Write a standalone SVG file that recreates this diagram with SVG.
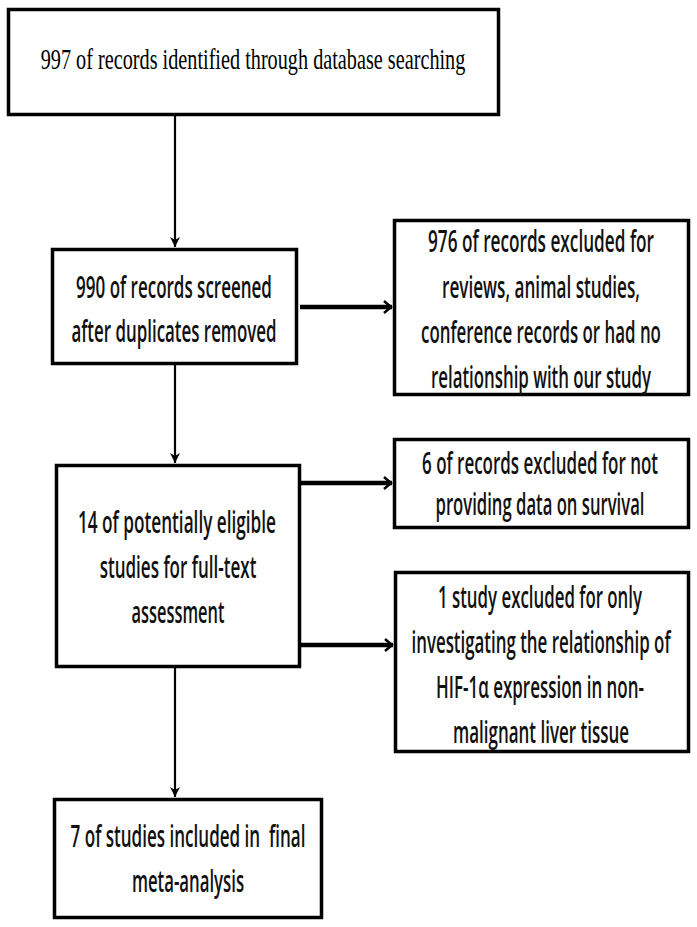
<svg xmlns="http://www.w3.org/2000/svg" width="697" height="927" viewBox="0 0 697 927">
<defs>
<style>
.box{fill:#fff;stroke:#000;stroke-width:3.5}
.t{font-family:"Open Sans","Liberation Sans",sans-serif;font-size:31px;font-weight:600;fill:#111;text-anchor:middle}
.s{font-family:"Liberation Serif",serif;font-size:29px;fill:#000;text-anchor:middle}
.thin{stroke:#000;stroke-width:2.2;fill:none}
.thick{stroke:#000;stroke-width:4.5;fill:none}
</style>
<marker id="hv" markerUnits="userSpaceOnUse" markerWidth="12" markerHeight="14" refX="10" refY="6" orient="auto">
<path d="M0,1 L10,6 L0,11 L3,6 Z" fill="#000"/>
</marker>
<marker id="hh" markerUnits="userSpaceOnUse" markerWidth="12" markerHeight="14" refX="10" refY="7" orient="auto">
<path d="M2,1 L9,7 L2,13" fill="none" stroke="#000" stroke-width="2.5"/>
</marker>
</defs>
<rect width="697" height="927" fill="#fff"/>
<g id="connectors">
<line class="thin" x1="175" y1="116" x2="175" y2="247" marker-end="url(#hv)"/>
<line class="thick" x1="300" y1="307" x2="392" y2="307" marker-end="url(#hh)"/>
<line class="thin" x1="175" y1="365" x2="175" y2="463" marker-end="url(#hv)"/>
<line class="thick" x1="301" y1="483" x2="392" y2="483" marker-end="url(#hh)"/>
<line class="thick" x1="301" y1="645" x2="393" y2="645" marker-end="url(#hh)"/>
<line class="thin" x1="175" y1="668" x2="175" y2="797" marker-end="url(#hv)"/>
</g>
<g id="n1">
<rect class="box" x="8.5" y="9.5" width="490" height="105"/>
<text class="s" transform="translate(253,69) scale(0.62,1)" textLength="685" lengthAdjust="spacingAndGlyphs">997 of records identified through database searching</text>
</g>
<g id="n2">
<rect class="box" x="52.5" y="249.5" width="244" height="114"/>
<text class="t" transform="translate(174,298) scale(0.55,1)" textLength="356" lengthAdjust="spacingAndGlyphs">990 of records screened</text>
<text class="t" transform="translate(174,342) scale(0.55,1)" textLength="373" lengthAdjust="spacingAndGlyphs">after duplicates removed</text>
</g>
<g id="n3">
<rect class="box" x="394.5" y="220.5" width="294" height="174"/>
<text class="t" transform="translate(541,252) scale(0.55,1)" textLength="411" lengthAdjust="spacingAndGlyphs">976 of records excluded for</text>
<text class="t" transform="translate(541,298) scale(0.55,1)" textLength="360" lengthAdjust="spacingAndGlyphs">reviews, animal studies,</text>
<text class="t" transform="translate(541,343) scale(0.55,1)" textLength="436" lengthAdjust="spacingAndGlyphs">conference records or had no</text>
<text class="t" transform="translate(541,388) scale(0.55,1)" textLength="400" lengthAdjust="spacingAndGlyphs">relationship with our study</text>
</g>
<g id="n4">
<rect class="box" x="56.5" y="465.5" width="243" height="201"/>
<text class="t" transform="translate(177,533) scale(0.55,1)" textLength="360" lengthAdjust="spacingAndGlyphs">14 of potentially eligible</text>
<text class="t" transform="translate(178,578) scale(0.55,1)" textLength="285" lengthAdjust="spacingAndGlyphs">studies for full-text</text>
<text class="t" transform="translate(178,623) scale(0.55,1)" textLength="169" lengthAdjust="spacingAndGlyphs">assessment</text>
</g>
<g id="n5">
<rect class="box" x="394.5" y="439.5" width="294" height="88"/>
<text class="t" transform="translate(540,474) scale(0.55,1)" textLength="429" lengthAdjust="spacingAndGlyphs">6 of records excluded for not</text>
<text class="t" transform="translate(540,515) scale(0.55,1)" textLength="380" lengthAdjust="spacingAndGlyphs">providing data on survival</text>
</g>
<g id="n6">
<rect class="box" x="395.5" y="572.5" width="293" height="179"/>
<text class="t" transform="translate(540,608) scale(0.55,1)" textLength="371" lengthAdjust="spacingAndGlyphs">1 study excluded for only</text>
<text class="t" transform="translate(541,653) scale(0.55,1)" textLength="471" lengthAdjust="spacingAndGlyphs">investigating the relationship of</text>
<text class="t" transform="translate(540,698) scale(0.55,1)" textLength="378" lengthAdjust="spacingAndGlyphs">HIF-1α expression in non-</text>
<text class="t" transform="translate(541,743) scale(0.55,1)" textLength="320" lengthAdjust="spacingAndGlyphs">malignant liver tissue</text>
</g>
<g id="n7">
<rect class="box" x="54.5" y="799.5" width="267" height="118"/>
<text class="t" transform="translate(188,847) scale(0.55,1)" textLength="427" lengthAdjust="spacingAndGlyphs" xml:space="preserve">7 of studies included in  final</text>
<text class="t" transform="translate(188,892) scale(0.55,1)" textLength="204" lengthAdjust="spacingAndGlyphs">meta-analysis</text>
</g>
</svg>
